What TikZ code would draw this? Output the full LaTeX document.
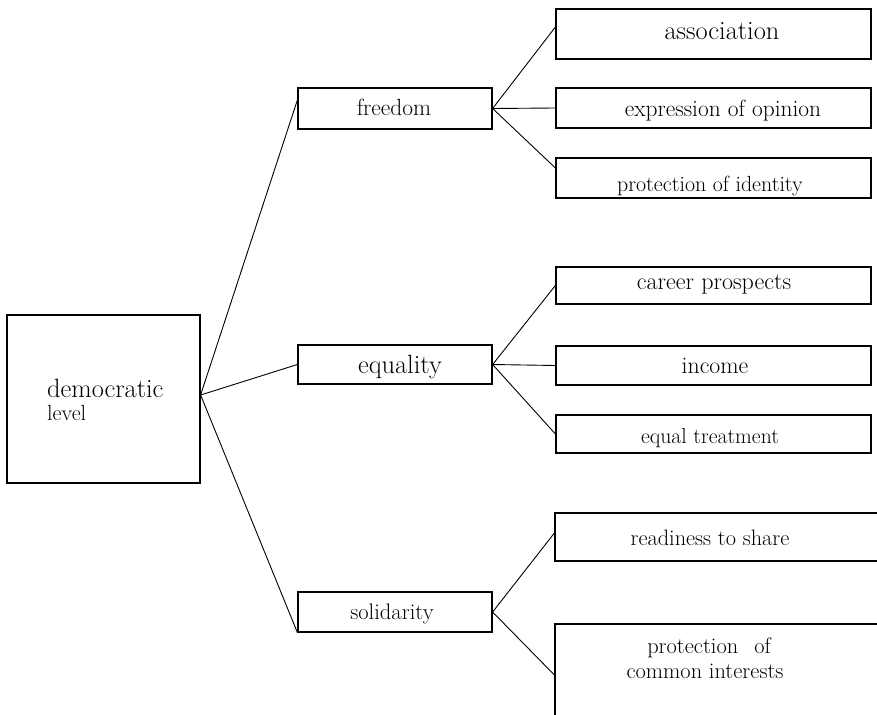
\documentclass[tikz,border=0pt]{standalone}
\newcommand\fsz[1]{\fontsize{#1pt}{#1pt}\selectfont}
\begin{document}
\begin{tikzpicture}[x=1pt,y=-1pt,
  box/.style={draw, line width=1.2pt, inner sep=0pt, rectangle},
  midbox/.style={box, minimum width=194pt},
  leafbox/.style={box, minimum width=315pt},
  link/.style={line width=0.9pt},
  lbl/.style={anchor=base, inner sep=0pt}]
\useasboundingbox (0,0) rectangle (877,714);
\clip (0,0) rectangle (877,714);

% root
\node[box, minimum width=193pt, minimum height=168pt] (dem) at (103.5,399) {};
\node[lbl, anchor=base west] (tdem) at (47,397) {\fsz{26.4}democratic};
\node[lbl, anchor=base west] (tlev) at (47,420) {\fsz{22}level};

% second level
\node[midbox, minimum height=41pt] (free) at (395,108.5) {};
\node[midbox, minimum height=39pt] (equa) at (395,364.5) {};
\node[midbox, minimum height=40pt] (soli) at (395,612) {};
\node[lbl] at (394,116) {\fsz{23.4}freedom};
\node[lbl] at (400,373) {\fsz{26.4}equality};
\node[lbl] at (392,619) {\fsz{22.5}solidarity};

% leaves of freedom
\node[leafbox, minimum height=50pt] (asso) at (713.5,34) {};
\node[leafbox, minimum height=40pt] (expr) at (713.5,108) {};
\node[leafbox, minimum height=40pt] (iden) at (713.5,178) {};
\node[lbl] at (722,40) {\fsz{26.4}association};
\node[lbl] at (723,117) {\fsz{23.4}expression of opinion};
\node[lbl] at (710,191) {\fsz{21.9}protection of identity};

% leaves of equality
\node[leafbox, minimum height=37pt] (care) at (713.5,285.5) {};
\node[leafbox, minimum height=39pt] (inco) at (713.5,365.5) {};
\node[leafbox, minimum height=38pt] (treat) at (713.5,434) {};
\node[lbl] at (714,289) {\fsz{24}career prospects};
\node[lbl] at (715,373) {\fsz{23.8}income};
\node[lbl] at (710,443) {\fsz{21.7}equal treatment};

% leaves of solidarity (running off the right and bottom edges)
\node[box, minimum width=345pt, minimum height=48pt] (shar) at (727.5,537) {};
\node[box, minimum width=345pt, minimum height=116pt] (comm) at (727.5,682) {};
\node[lbl] at (710,545) {\fsz{22.3}readiness to share};
\node[lbl] at (709,653) {\fsz{22.4}protection\hspace{16pt}of};
\node[lbl] at (705,678) {\fsz{22.4}common interests};

% connectors
\draw[link] ([yshift=4pt]dem.east) -- ([yshift=8.5pt]free.west);
\draw[link] ([yshift=4pt]dem.east) -- (equa.west);
\draw[link] ([yshift=4pt]dem.east) -- (soli.south west);

\draw[link] (free.east) -- ([yshift=7pt]asso.west);
\draw[link] (free.east) -- (expr.west);
\draw[link] (free.east) -- ([yshift=10pt]iden.west);

\draw[link] (equa.east) -- (care.west);
\draw[link] (equa.east) -- (inco.west);
\draw[link] (equa.east) -- (treat.west);

\draw[link] (soli.east) -- ([yshift=4pt]shar.west);
\draw[link] (soli.east) -- ([yshift=7pt]comm.west);
\end{tikzpicture}
\end{document}
